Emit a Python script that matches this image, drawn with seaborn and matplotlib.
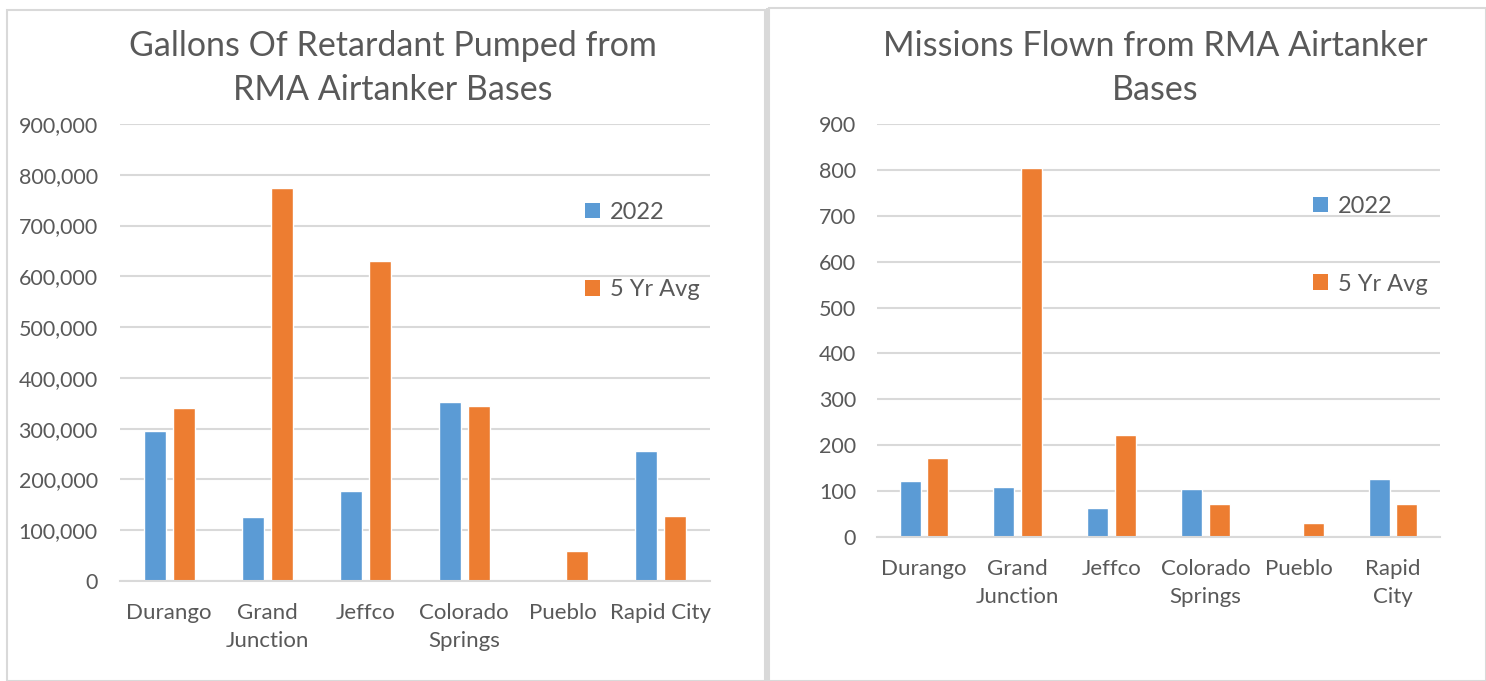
import matplotlib
matplotlib.use("Agg")
import matplotlib.pyplot as plt
from matplotlib.patches import Patch, Rectangle
from matplotlib.ticker import FuncFormatter, MultipleLocator
import seaborn as sns
import pandas as pd

# ---- data ----
bases_left = ["Durango", "Grand\nJunction", "Jeffco", "Colorado\nSprings", "Pueblo", "Rapid City"]
bases_right = ["Durango", "Grand\nJunction", "Jeffco", "Colorado\nSprings", "Pueblo", "Rapid\nCity"]
series = ["2022", "5 Yr Avg"]
gallons_2022 = [296000, 126000, 177000, 352000, 0, 257000]
gallons_5yr = [340000, 773000, 631000, 344000, 59000, 128000]
missions_2022 = [123, 110, 63, 105, 0, 127]
missions_5yr = [173, 805, 222, 72, 30, 71]
title_left = "Gallons Of Retardant Pumped from\nRMA Airtanker Bases"
title_right = "Missions Flown from RMA Airtanker\nBases"

colors = {"2022": "#5B9BD5", "5 Yr Avg": "#ED7D31"}
text_color = "#595959"
grid_color = "#D9D9D9"

sns.set_theme(style="white")
plt.rcParams["font.family"] = ["Lato", "DejaVu Sans"]

FS_Y = 15.5
FS_X = 16
FS_LEG = 17
FS_TITLE = 24.5


def long_df(cats, a, b):
    return pd.DataFrame({
        "base": cats * 2,
        "series": [series[0]] * len(cats) + [series[1]] * len(cats),
        "value": list(a) + list(b),
    })


fig = plt.figure(figsize=(14.86, 6.81), dpi=100)
fig.patch.set_facecolor("white")

# panel borders
fig.add_artist(Rectangle((7 / 1486, 0), (765 - 7) / 1486, 1 - 10 / 681,
                         transform=fig.transFigure, fill=False,
                         edgecolor=grid_color, lw=1.5))
fig.add_artist(Rectangle((766 / 1486, 0), 3 / 1486, 1 - 8 / 681,
                         transform=fig.transFigure, facecolor=grid_color,
                         edgecolor="none"))
fig.add_artist(Rectangle((769 / 1486, 0), 1 - 769 / 1486, 1 - 8 / 681,
                         transform=fig.transFigure, fill=False,
                         edgecolor=grid_color, lw=1.5))

axL = fig.add_axes([120 / 1486, 1 - 581 / 681, 590 / 1486, 457 / 681])
axR = fig.add_axes([877 / 1486, 1 - 537 / 681, 563 / 1486, 413 / 681])

configs = [
    (axL, bases_left, gallons_2022, gallons_5yr, 900000, 100000,
     lambda v, p: f"{int(v):,}", title_left, 393, (0.788, 0.830), 16),
    (axR, bases_right, missions_2022, missions_5yr, 900, 100,
     lambda v, p: f"{int(v)}", title_right, 1155, (0.774, 0.826), 15),
]

for ax, cats, a, b, ymax, step, fmt, title, tx, legpos, ypad in configs:
    df = long_df(cats, a, b)
    sns.barplot(data=df, x="base", y="value", hue="series", order=cats,
                hue_order=series, palette=colors, width=0.59, gap=0.24,
                saturation=1, ax=ax, legend=False)
    ax.set_ylim(0, ymax)
    ax.set_xlim(-0.5, len(cats) - 0.5)
    ax.yaxis.set_major_locator(MultipleLocator(step))
    ax.yaxis.set_major_formatter(FuncFormatter(fmt))
    ax.grid(axis="y", color=grid_color, lw=1.5)
    ax.set_axisbelow(True)
    for s in ["top", "right", "left"]:
        ax.spines[s].set_visible(False)
    ax.spines["bottom"].set_color(grid_color)
    ax.spines["bottom"].set_linewidth(1.5)
    ax.set_facecolor("none")
    ax.set_xlabel("")
    ax.set_ylabel("")
    ax.tick_params(axis="both", length=0, colors=text_color)
    ax.tick_params(axis="y", pad=ypad, labelsize=FS_Y)
    ax.tick_params(axis="x", pad=16, labelsize=FS_X)
    for lbl in ax.get_xticklabels():
        lbl.set_linespacing(1.5)
    fig.text(tx / 1486, 1 - 68 / 681, title, ha="center", va="center",
             fontsize=FS_TITLE, color=text_color, linespacing=1.45)
    handles = [Patch(facecolor=colors[s], edgecolor="none", label=s) for s in series]
    ax.legend(handles=handles, loc="upper left", bbox_to_anchor=legpos,
              frameon=False, fontsize=FS_LEG, labelcolor=text_color,
              handlelength=0.65, handleheight=0.65, handletextpad=0.4,
              labelspacing=2.4, borderpad=0, borderaxespad=0)

fig.savefig("out.png", dpi=100, facecolor="white")
